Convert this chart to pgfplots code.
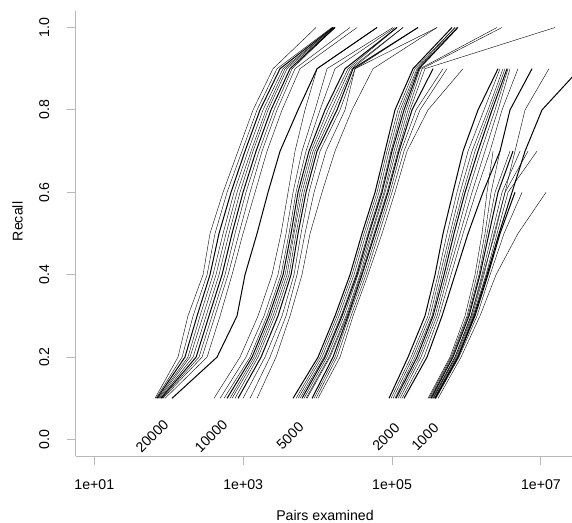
\documentclass[border=0pt]{standalone}
\usepackage{pgfplots}
\pgfplotsset{compat=1.18}
\usepackage{fontspec}
\setmainfont{Liberation Sans}
\begin{document}
\begin{tikzpicture}[font=\fontsize{14.2}{17}\selectfont]
\path[use as bounding box] (-75.7bp,-67bp) rectangle (496.3bp,456bp);
\begin{axis}[
  at={(0,0)}, anchor=south west,
  scale only axis, width=496.3bp, height=445bp,
  xmode=log, xmin=5.62, xmax=2.61e7,
  ymin=-0.04, ymax=1.04,
  axis x line*=bottom, axis y line*=left,
  axis line style={-, draw=black!28, line width=1bp},
  tick style={draw=black!28, line width=1bp},
  tick align=outside, major tick length=9bp,
  xtick={10,1000,100000,10000000},
  xticklabels={1e+01,1e+03,1e+05,1e+07},
  xticklabel style={yshift=-11bp},
  xminorticks=false,
  ytick={0,0.2,0.4,0.6,0.8,1.0},
  yticklabels={0.0,0.2,0.4,0.6,0.8,1.0},
  yticklabel style={xshift=-14bp, rotate=90, anchor=south},
  clip mode=individual,
  cycle list={{black, solid, line width=1bp, mark=none}},
]
% group 20000
\addplot coordinates {(65.3,0.1)(133,0.2)(181,0.3)(289,0.4)(358,0.5)(536,0.6)(852,0.7)(1356,0.8)(2514,0.9)(9516,1)};
\addplot coordinates {(67.4,0.1)(151,0.2)(212,0.3)(327,0.4)(418,0.5)(607,0.6)(964,0.7)(1534,0.8)(2844,0.9)(15590,1)};
\addplot coordinates {(69.5,0.1)(165,0.2)(240,0.3)(358,0.4)(473,0.5)(686,0.6)(1057,0.7)(1683,0.8)(3126,0.9)(16080,1)};
\addplot coordinates {(71.6,0.1)(181,0.2)(263,0.3)(393,0.4)(536,0.5)(753,0.6)(1160,0.7)(1847,0.8)(3430,0.9)(16580,1)};
\addplot coordinates {(73.9,0.1)(193,0.2)(289,0.3)(431,0.4)(588,0.5)(826,0.6)(1275,0.7)(2025,0.8)(3648,0.9)(16580,1)};
\addplot coordinates {(76.2,0.1)(212,0.2)(317,0.3)(473,0.4)(645,0.5)(906,0.6)(1356,0.7)(2154,0.8)(3881,0.9)(17100,1)};
\addplot coordinates {(78.6,0.1)(233,0.2)(347,0.3)(520,0.4)(708,0.5)(994,0.6)(1487,0.7)(2363,0.8)(4256,0.9)(17100,1)};
\addplot coordinates {(81.1,0.1)(255,0.2)(381,0.3)(570,0.4)(776,0.5)(1090,0.6)(1632,0.7)(2593,0.8)(4528,0.9)(17100,1)};
\addplot coordinates {(83.6,0.1)(280,0.2)(418,0.3)(626,0.4)(878,0.5)(1236,0.6)(1790,0.7)(2844,0.8)(4966,0.9)(27220,1)};
\addplot coordinates {(89.1,0.1)(327,0.2)(489,0.3)(708,0.4)(994,0.5)(1442,0.6)(2088,0.7)(3325,0.8)(5794,0.9)(33790,1)};
\addplot coordinates {(110.6,0.1)(445,0.2)(826,0.3)(1057,0.4)(1534,0.5)(2154,0.6)(3126,0.7)(5449,0.8)(9815,0.9)(62790,1)};
% group 10000
\addplot coordinates {(405,0.1)(906,0.2)(1582,0.3)(2437,0.4)(3224,0.5)(4003,0.6)(4966,0.7)(6761,0.8)(9815,0.9)(62790,1)};
\addplot coordinates {(489,0.1)(1090,0.2)(1904,0.3)(2933,0.4)(3763,0.5)(4670,0.6)(6164,0.7)(9226,0.8)(13360,0.9)(102900,1)};
\addplot coordinates {(553,0.1)(1236,0.2)(2088,0.3)(3224,0.4)(4128,0.5)(5122,0.6)(6973,0.7)(10765,0.8)(17100,0.9)(109400,1)};
\addplot coordinates {(607,0.1)(1315,0.2)(2221,0.3)(3430,0.4)(4390,0.5)(5449,0.6)(7651,0.7)(12560,0.8)(23330,0.9)(116400,1)};
\addplot coordinates {(665,0.1)(1399,0.2)(2363,0.3)(3648,0.4)(4670,0.5)(5794,0.6)(8155,0.7)(13780,0.8)(25600,0.9)(116400,1)};
\addplot coordinates {(708,0.1)(1487,0.2)(2514,0.3)(3881,0.4)(4816,0.5)(6164,0.6)(8676,0.7)(15120,0.8)(27220,0.9)(140300,1)};
\addplot coordinates {(776,0.1)(1582,0.2)(2673,0.3)(4128,0.4)(5122,0.5)(6557,0.6)(9226,0.7)(16580,0.8)(28960,0.9)(140300,1)};
\addplot coordinates {(852,0.1)(1736,0.2)(2933,0.3)(4390,0.4)(5449,0.5)(6973,0.6)(9815,0.7)(18190,0.8)(29870,0.9)(222900,1)};
\addplot coordinates {(994,0.1)(1963,0.2)(3325,0.3)(4816,0.4)(5976,0.5)(7651,0.6)(10765,0.7)(19990,0.8)(31760,0.9)(222900,1)};
\addplot coordinates {(1236,0.1)(2291,0.2)(3763,0.3)(5283,0.4)(6761,0.5)(8948,0.6)(12950,0.7)(23330,0.8)(31760,0.9)(401700,1)};
\addplot coordinates {(1534,0.1)(2757,0.2)(4256,0.3)(6164,0.4)(7907,0.5)(11450,0.6)(17100,0.7)(28960,0.8)(55500,0.9)(401700,1)};
% group 5000
\addplot coordinates {(4670,0.1)(10120,0.2)(17100,0.3)(27220,0.4)(39440,0.5)(59020,0.6)(80350,0.7)(109400,0.8)(191100,0.9)(638100,1)};
\addplot coordinates {(5122,0.1)(10765,0.2)(18190,0.3)(28960,0.4)(41950,0.5)(62790,0.6)(85480,0.7)(120000,0.8)(203200,0.9)(699800,1)};
\addplot coordinates {(5449,0.1)(11450,0.2)(19350,0.3)(30800,0.4)(44610,0.5)(66790,0.6)(90930,0.7)(127900,0.8)(216200,0.9)(699800,1)};
\addplot coordinates {(5794,0.1)(12180,0.2)(20620,0.3)(32760,0.4)(47450,0.5)(71030,0.6)(96700,0.7)(136100,0.8)(222900,0.9)(744400,1)};
\addplot coordinates {(6164,0.1)(12560,0.2)(21270,0.3)(33790,0.4)(48940,0.5)(73260,0.6)(99740,0.7)(144700,0.8)(229900,0.9)(767800,1)};
\addplot coordinates {(6557,0.1)(13360,0.2)(22620,0.3)(34850,0.4)(52170,0.5)(77930,0.6)(106100,0.7)(154000,0.8)(237100,0.9)(2569000,1)};
\addplot coordinates {(6973,0.1)(14210,0.2)(24060,0.3)(37070,0.4)(53810,0.5)(80350,0.6)(112800,0.7)(163800,0.8)(252200,0.9)(2998000,1)};
\addplot coordinates {(7192,0.1)(14655,0.2)(24820,0.3)(38230,0.4)(57240,0.5)(85480,0.6)(120000,0.7)(174200,0.8)(276700,0.9)(15450000,1)};
\addplot coordinates {(8411,0.1)(16080,0.2)(25600,0.3)(39440,0.4)(59020,0.5)(88160,0.6)(123800,0.7)(185300,0.8)(355100,0.9)};
\addplot coordinates {(8948,0.1)(17100,0.2)(26400,0.3)(41950,0.4)(62790,0.5)(93760,0.6)(131900,0.7)(209600,0.8)(483400,0.9)};
\addplot coordinates {(9516,0.1)(18190,0.2)(28070,0.3)(44610,0.4)(66790,0.5)(99740,0.6)(144700,0.7)(237100,0.8)(546800,0.9)};
\addplot coordinates {(10120,0.1)(19990,0.2)(29870,0.3)(47450,0.4)(73260,0.5)(109400,0.6)(158800,0.7)(303600,0.8)(898000,0.9)};
% group 2000
\addplot coordinates {(90930,0.1)(163800,0.2)(276700,0.3)(377600,0.4)(483400,0.5)(658100,0.6)(898000,0.7)(1426000,0.8)(2650000,0.9)};
\addplot coordinates {(96700,0.1)(179700,0.2)(303600,0.3)(414300,0.4)(546800,0.5)(744400,0.6)(1048000,0.7)(1717000,0.8)(2818000,0.9)};
\addplot coordinates {(102900,0.1)(191100,0.2)(323600,0.3)(440600,0.4)(599800,0.5)(818500,0.6)(1185000,0.7)(1942000,0.8)(3092000,0.9)};
\addplot coordinates {(109400,0.1)(203200,0.2)(344200,0.3)(468700,0.4)(638100,0.5)(898000,0.6)(1300000,0.7)(2070000,0.8)(3289000,0.9)};
\addplot coordinates {(112800,0.1)(216200,0.2)(355100,0.3)(498600,0.4)(678700,0.5)(955000,0.6)(1426000,0.7)(2202000,0.8)(3499000,0.9)};
\addplot coordinates {(120000,0.1)(229900,0.2)(377600,0.3)(530100,0.4)(744400,0.5)(1048000,0.6)(1565000,0.7)(2415000,0.8)(3609000,0.9)};
\addplot coordinates {(127900,0.1)(244500,0.2)(401700,0.3)(564000,0.4)(818500,0.5)(1185000,0.6)(1770000,0.7)(2650000,0.8)(3837000,0.9)};
\addplot coordinates {(136100,0.1)(268300,0.2)(427300,0.3)(618600,0.4)(898000,0.5)(1341000,0.6)(2070000,0.7)(2998000,0.8)(4912000,0.9)};
\addplot coordinates {(144700,0.1)(294400,0.2)(468700,0.3)(699800,0.4)(1048000,0.5)(1664000,0.6)(2818000,0.7)(3837000,0.8)(7584000,0.9)};
% group 1000
\addplot coordinates {(303600,0.1)(599800,0.2)(955000,0.3)(1300000,0.4)(1614000,0.5)(1883000,0.6)(2271000,0.7)};
\addplot coordinates {(313100,0.1)(618600,0.2)(1016000,0.3)(1383000,0.4)(1770000,0.5)(2135000,0.6)(2818000,0.7)};
\addplot coordinates {(323600,0.1)(638100,0.2)(1048000,0.3)(1471000,0.4)(1883000,0.5)(2415000,0.6)(3837000,0.7)};
\addplot coordinates {(333800,0.1)(658100,0.2)(1081000,0.3)(1517000,0.4)(2003000,0.5)(2650000,0.6)(4210000,0.7)};
\addplot coordinates {(344200,0.1)(699800,0.2)(1149000,0.3)(1614000,0.4)(2202000,0.5)(2998000,0.6)(5236000,0.7)};
\addplot coordinates {(355100,0.1)(721800,0.2)(1185000,0.3)(1717000,0.4)(2342000,0.5)(3289000,0.6)(6703000,0.7)};
\addplot coordinates {(366200,0.1)(744400,0.2)(1222000,0.3)(1826000,0.4)(2569000,0.5)(3609000,0.6)(8849000,0.7)};
\addplot coordinates {(377600,0.1)(767800,0.2)(1300000,0.3)(1942000,0.4)(2818000,0.5)(4477000,0.6)};
\addplot coordinates {(389500,0.1)(791900,0.2)(1383000,0.3)(2070000,0.4)(3189000,0.5)(5570000,0.6)};
\addplot coordinates {(414300,0.1)(844200,0.2)(1517000,0.3)(2491000,0.4)(4912000,0.5)(11680000,0.6)};
\addplot coordinates {(355100,0.1)(699800,0.2)(1149000,0.3)(1664000,0.4)(2415000,0.5)(3289000,0.6)(4477000,0.7)(6109000,0.8)(12810000,0.9)};
\addplot coordinates {(377600,0.1)(767800,0.2)(1261000,0.3)(1883000,0.4)(2733000,0.5)(4082000,0.6)(6109000,0.7)(10320000,0.8)(33420000,0.9)};
% group labels
\node[rotate=45, inner sep=0pt] at (axis cs:59.6,0.0085) {20000};
\node[rotate=45, inner sep=0pt] at (axis cs:369,0.0085) {10000};
\node[rotate=45, inner sep=0pt] at (axis cs:4256,0.0085) {5000};
\node[rotate=45, inner sep=0pt] at (axis cs:82800,0.006) {2000};
\node[rotate=45, inner sep=0pt] at (axis cs:276700,0.006) {1000};
\end{axis}
\node at (249.3bp,-59bp) {Pairs examined};
\node[rotate=90] at (-58.2bp,234.5bp) {Recall};
\end{tikzpicture}
\end{document}
